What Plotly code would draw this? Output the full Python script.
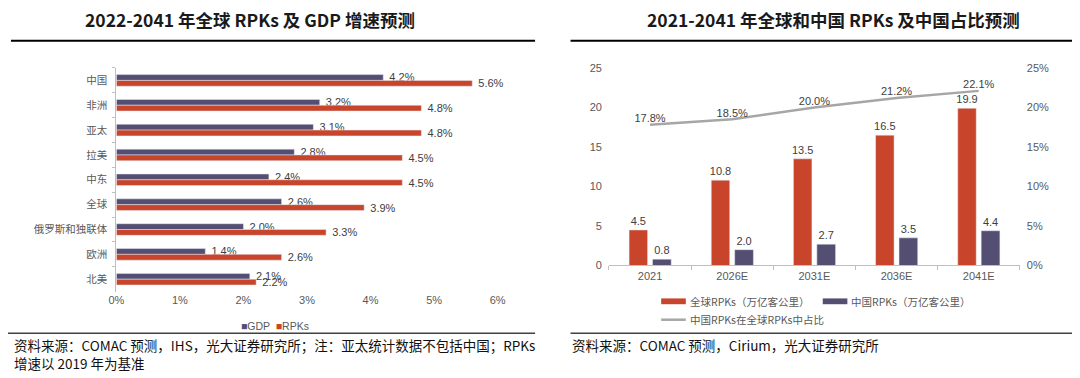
import plotly.graph_objects as go

# ---------------- data ----------------
regions = ['中国', '非洲', '亚太', '拉美', '中东', '全球', '俄罗斯和独联体', '欧洲', '北美']
gdp_growth = [4.2, 3.2, 3.1, 2.8, 2.4, 2.6, 2.0, 1.4, 2.1]
rpk_growth = [5.6, 4.8, 4.8, 4.5, 4.5, 3.9, 3.3, 2.6, 2.2]
pct_ticks = [0, 1, 2, 3, 4, 5, 6]
pct_tick_labels = ['0%', '1%', '2%', '3%', '4%', '5%', '6%']

years = ['2021', '2026E', '2031E', '2036E', '2041E']
global_rpk = [4.5, 10.8, 13.5, 16.5, 19.9]
china_rpk = [0.8, 2.0, 2.7, 3.5, 4.4]
china_share = [17.8, 18.5, 20.0, 21.2, 22.1]
share_ticks = [0, 5, 10, 15, 20, 25]
share_tick_labels = ['0%', '5%', '10%', '15%', '20%', '25%']

# ---------------- styles ----------------
W, H = 1080, 378
RED = '#C8442A'
PURPLE = '#544F72'
LGRAY = '#A6A6A6'
TICK = '#595959'
LAB = '#404040'
CJK = "'Noto Sans CJK SC', sans-serif"
ARI = "'Liberation Sans', Arial, 'Noto Sans CJK SC', sans-serif"

def px_x(p):
    return p / W

def px_y(p):
    return 1 - p / H

fig = go.Figure()

# ---------------- left chart ----------------
fig.add_trace(go.Bar(
    y=regions, x=gdp_growth, orientation='h', name='GDP',
    marker=dict(color=PURPLE), width=0.234, offset=-0.234,
    text=['  %.1f%%' % v for v in gdp_growth], textposition='outside',
    constraintext='none', cliponaxis=False,
    textfont=dict(family=ARI, size=11, color=LAB),
    xaxis='x', yaxis='y', showlegend=False, hoverinfo='skip'))
fig.add_trace(go.Bar(
    y=regions, x=rpk_growth, orientation='h', name='RPKs',
    marker=dict(color=RED), width=0.234, offset=0.0,
    text=['  %.1f%%' % v for v in rpk_growth], textposition='outside',
    constraintext='none', cliponaxis=False,
    textfont=dict(family=ARI, size=11, color=LAB),
    xaxis='x', yaxis='y', showlegend=False, hoverinfo='skip'))

# ---------------- right chart ----------------
fig.add_trace(go.Bar(
    x=years, y=global_rpk, name='全球RPKs（万亿客公里）',
    marker=dict(color=RED), width=0.225, offset=-0.255,
    text=['%.1f' % v for v in global_rpk], textposition='outside',
    constraintext='none', cliponaxis=False,
    textfont=dict(family=ARI, size=11, color=LAB),
    xaxis='x2', yaxis='y2', showlegend=False, hoverinfo='skip'))
fig.add_trace(go.Bar(
    x=years, y=china_rpk, name='中国RPKs（万亿客公里）',
    marker=dict(color=PURPLE), width=0.228, offset=0.03,
    text=['%.1f' % v for v in china_rpk], textposition='outside',
    constraintext='none', cliponaxis=False,
    textfont=dict(family=ARI, size=11, color=LAB),
    xaxis='x2', yaxis='y2', showlegend=False, hoverinfo='skip'))
fig.add_trace(go.Scatter(
    x=years, y=china_share, name='中国RPKs在全球RPKs中占比',
    mode='lines+text', line=dict(color=LGRAY, width=2.5),
    text=['%.1f%%' % v for v in china_share], textposition='top center',
    textfont=dict(family=ARI, size=11, color=LAB), cliponaxis=False,
    xaxis='x2', yaxis='y3', showlegend=False, hoverinfo='skip'))

axis_common = dict(showgrid=False, zeroline=False, fixedrange=True)

fig.update_layout(
    width=W, height=H,
    margin=dict(l=0, r=0, t=0, b=0),
    paper_bgcolor='white', plot_bgcolor='white',
    barmode='group',
    xaxis=dict(domain=[px_x(110), px_x(497)], range=[0, 6],
               tickmode='array', tickvals=pct_ticks, ticktext=pct_tick_labels,
               anchor='y',
               tickfont=dict(family=ARI, size=11, color=TICK),
               showline=False, **axis_common),
    yaxis=dict(domain=[px_y(295), px_y(64)], autorange='reversed',
               type='category', anchor='x',
               showline=True, linecolor='#BFBFBF', linewidth=1,
               ticks='outside', tickson='boundaries', ticklen=3,
               tickcolor='#BFBFBF', ticklabelstandoff=6,
               tickfont=dict(family=CJK, size=10.5, color=TICK),
               **axis_common),
    xaxis2=dict(domain=[px_x(610), px_x(1027)], type='category', anchor='y2',
                showline=True, linecolor='#BFBFBF', linewidth=1,
                ticks='outside', tickson='boundaries', ticklen=4,
                tickcolor='#BFBFBF',
                tickfont=dict(family=ARI, size=11, color=TICK),
                **axis_common),
    yaxis2=dict(domain=[px_y(268), px_y(64)], range=[0, 25], dtick=5,
                anchor='x2', showline=False, ticklabelstandoff=6,
                tickfont=dict(family=ARI, size=11, color=TICK),
                **axis_common),
    yaxis3=dict(overlaying='y2', side='right', range=[0, 25],
                tickmode='array', tickvals=share_ticks, ticktext=share_tick_labels,
                anchor='x2', showline=False,
                ticklabelstandoff=6,
                tickfont=dict(family=ARI, size=11, color=TICK),
                **axis_common),
)

annotations = []
shapes = []

# titles
annotations.append(dict(x=px_x(246), y=px_y(14), xref='paper', yref='paper',
                        text='2022-2041 年全球 RPKs 及 GDP 增速预测', showarrow=False,
                        xanchor='center', yanchor='middle',
                        font=dict(family=CJK, size=17.5, color='#1a1a1a', weight=700)))
annotations.append(dict(x=px_x(838), y=px_y(14), xref='paper', yref='paper',
                        text='2021-2041 年全球和中国 RPKs 及中国占比预测', showarrow=False,
                        xanchor='center', yanchor='middle',
                        font=dict(family=CJK, size=17.5, color='#1a1a1a', weight=700)))
# title rules
shapes.append(dict(type='line', xref='paper', yref='paper',
                   x0=px_x(3), x1=px_x(535), y0=px_y(36), y1=px_y(36),
                   line=dict(color='black', width=2)))
shapes.append(dict(type='line', xref='paper', yref='paper',
                   x0=px_x(571), x1=1, y0=px_y(36), y1=px_y(36),
                   line=dict(color='black', width=2)))
# footer rules
shapes.append(dict(type='line', xref='paper', yref='paper',
                   x0=0, x1=px_x(535), y0=px_y(338), y1=px_y(338),
                   line=dict(color='#404040', width=1.5)))
shapes.append(dict(type='line', xref='paper', yref='paper',
                   x0=px_x(571), x1=1, y0=px_y(338), y1=px_y(338),
                   line=dict(color='#404040', width=1.5)))
# footers
annotations.append(dict(x=px_x(4), y=px_y(350), xref='paper', yref='paper',
                        text='资料来源：COMAC 预测，IHS，光大证券研究所；注：亚太统计数据不包括中国；RPKs',
                        showarrow=False, xanchor='left', yanchor='middle',
                        font=dict(family=CJK, size=13.5, color='#111111')))
annotations.append(dict(x=px_x(4), y=px_y(369), xref='paper', yref='paper',
                        text='增速以 2019 年为基准',
                        showarrow=False, xanchor='left', yanchor='middle',
                        font=dict(family=CJK, size=13.5, color='#111111')))
annotations.append(dict(x=px_x(570), y=px_y(350), xref='paper', yref='paper',
                        text='资料来源：COMAC 预测，Cirium，光大证券研究所',
                        showarrow=False, xanchor='left', yanchor='middle',
                        font=dict(family=CJK, size=13.5, color='#111111')))

# left legend
annotations.append(dict(x=px_x(271), y=px_y(331), xref='paper', yref='paper',
                        text="<span style='color:%s'>■</span>GDP  <span style='color:%s'>■</span>RPKs" % (PURPLE, RED),
                        showarrow=False, xanchor='center', yanchor='middle',
                        font=dict(family=ARI, size=10.5, color=TICK)))

# right legend
legend_items = [
    (663, 305, 'bar', RED, '全球RPKs（万亿客公里）'),
    (827, 305, 'bar', PURPLE, '中国RPKs（万亿客公里）'),
    (663, 324, 'line', LGRAY, '中国RPKs在全球RPKs中占比'),
]
for x0, yc, kind, col, label in legend_items:
    if kind == 'bar':
        shapes.append(dict(type='rect', xref='paper', yref='paper',
                           x0=px_x(x0), x1=px_x(x0 + 25), y0=px_y(yc + 3), y1=px_y(yc - 3),
                           fillcolor=col, line=dict(width=0)))
    else:
        shapes.append(dict(type='line', xref='paper', yref='paper',
                           x0=px_x(x0), x1=px_x(x0 + 25), y0=px_y(yc), y1=px_y(yc),
                           line=dict(color=col, width=2.5)))
    annotations.append(dict(x=px_x(x0 + 27), y=px_y(yc), xref='paper', yref='paper',
                            text=label, showarrow=False, xanchor='left', yanchor='middle',
                            font=dict(family=CJK, size=10.5, color=TICK)))

fig.update_layout(annotations=annotations, shapes=shapes)

fig.write_html('out.html',
               config={'displayModeBar': False, 'staticPlot': True},
               post_script="document.body.style.margin='0';document.body.style.overflow='hidden';")
